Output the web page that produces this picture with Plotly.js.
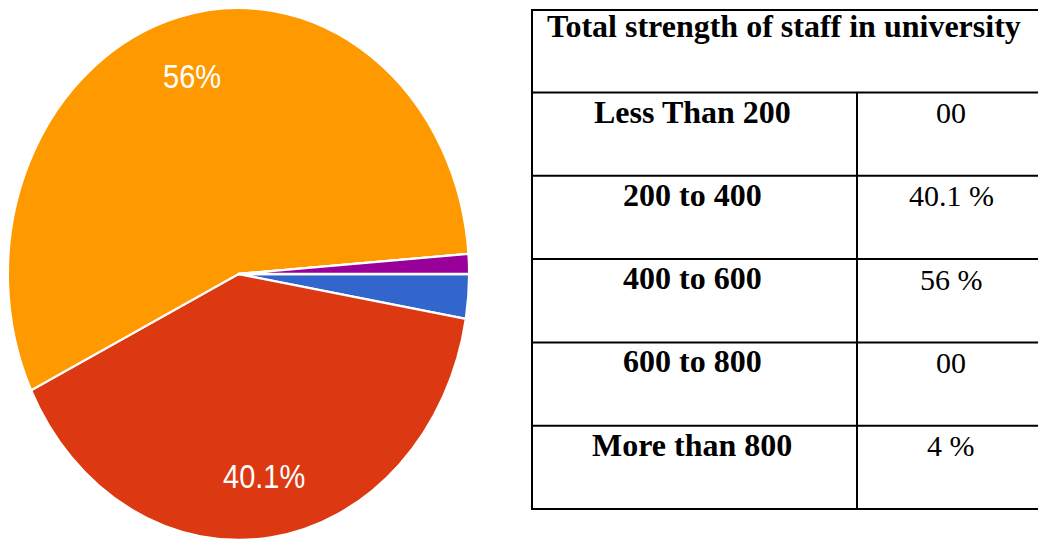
<!DOCTYPE html>
<html>
<head>
<meta charset="utf-8">
<script src="https://cdn.plot.ly/plotly-3.0.1.min.js"></script>
<style>
  html, body { margin: 0; padding: 0; background: #ffffff; width: 1038px; height: 541px; overflow: hidden; }
  #pie { position: absolute; left: 0px; top: 8px; width: 477px; height: 461px; transform: scaleY(1.154); transform-origin: 0 0; }
  #table { position: absolute; left: 0; top: 0; width: 1038px; height: 541px; }
</style>
</head>
<body>
<div id="pie"></div>
<div id="table"></div>
<script>
// ---- Pie data (Google Forms style response chart) ----
var pieLabels = ["Less Than 200", "200 to 400", "400 to 600", "600 to 800", "More than 800"];
var pieValues = [2.7, 40.1, 56, 0, 1.2];
var pieColors = ["#3366cc", "#dc3912", "#ff9900", "#109618", "#990099"];
var pieShowLabel = [false, true, true, false, false];

// ---- Table data ----
var tableTitle = "Total strength of staff in university";
var tableRows = ["Less Than 200", "200 to 400", "400 to 600", "600 to 800", "More than 800"];
var tableValues = ["00", "40.1 %", "56 %", "00", "4 %"];

// ---- Pie ----
var PW = 477, PH = 461;
var startDeg = 90; // first slice starts at 3 o'clock, clockwise
var pieTrace = {
  type: "pie",
  labels: pieLabels,
  values: pieValues,
  sort: false,
  direction: "clockwise",
  rotation: startDeg,
  marker: { colors: pieColors, line: { color: "#ffffff", width: 2 } },
  textinfo: "none",
  hoverinfo: "label+percent",
  showlegend: false,
  domain: { x: [0, 1], y: [0, 1] }
};

// percent labels placed along each slice's mid-angle (Google Charts style, ~0.77 of radius)
var total = pieValues.reduce(function (a, b) { return a + b; }, 0);
var radius = Math.min(PW, PH) / 2;
var labelFrac = 0.77;
var pieAnn = [];
var cum = 0;
pieValues.forEach(function (v, i) {
  var mid = cum + v / 2;
  cum += v;
  if (!pieShowLabel[i]) return;
  var theta = -(mid / total) * 2 * Math.PI; // math angle, 0 = 3 o'clock, clockwise
  var pct = Math.round(v / total * 1000) / 10;
  pieAnn.push({
    xref: "paper", yref: "paper",
    x: 0.5 + labelFrac * radius * Math.cos(theta) / PW,
    y: 0.5 + labelFrac * radius * Math.sin(theta) / PH,
    xanchor: "center", yanchor: "middle",
    text: pct + "%", showarrow: false,
    font: { family: "Liberation Sans, Arial, sans-serif", size: 29, color: "#ffffff" }
  });
});

Plotly.newPlot("pie", [pieTrace], {
  width: PW, height: PH,
  margin: { l: 0, r: 0, t: 0, b: 0 },
  paper_bgcolor: "rgba(0,0,0,0)",
  showlegend: false,
  annotations: pieAnn
}, { displayModeBar: false, staticPlot: true });

// ---- Table drawn with shapes + annotations ----
var W = 1038, H = 541;
function px(x) { return x / W; }
function py(y) { return 1 - y / H; }

var tLeft = 532, tRight = 1038, tTop = 10, tHeaderBottom = 92.5, rowH = 83.3, colDiv = 857;
var tBottom = tHeaderBottom + rowH * tableRows.length;
var lineStyle = { color: "#000000", width: 2 };
var shapes = [];
function hline(y, x0, x1) {
  shapes.push({ type: "line", xref: "paper", yref: "paper", x0: px(x0), x1: px(x1), y0: py(y), y1: py(y), line: lineStyle });
}
function vline(x, y0, y1) {
  shapes.push({ type: "line", xref: "paper", yref: "paper", x0: px(x), x1: px(x), y0: py(y0), y1: py(y1), line: lineStyle });
}
hline(tTop, tLeft - 1, tRight);
hline(tHeaderBottom, tLeft - 1, tRight);
tableRows.forEach(function (r, i) { hline(tHeaderBottom + rowH * (i + 1), tLeft - 1, tRight); });
vline(tLeft, tTop, tBottom);
vline(colDiv, tHeaderBottom, tBottom);

var serif = "Liberation Serif, Times New Roman, serif";
var annotations = [];
annotations.push({
  xref: "paper", yref: "paper", x: px(784), y: py(tTop + 16), xanchor: "center", yanchor: "middle",
  text: "<b>" + tableTitle + "</b>", showarrow: false,
  font: { family: serif, size: 32, color: "#000000" }
});
tableRows.forEach(function (r, i) {
  var yTop = tHeaderBottom + rowH * i;
  annotations.push({
    xref: "paper", yref: "paper", x: px(692), y: py(yTop + 19), xanchor: "center", yanchor: "middle",
    text: "<b>" + r + "</b>", showarrow: false,
    font: { family: serif, size: 32, color: "#000000" }
  });
  annotations.push({
    xref: "paper", yref: "paper", x: px(951), y: py(yTop + 20), xanchor: "center", yanchor: "middle",
    text: tableValues[i], showarrow: false,
    font: { family: serif, size: 30, color: "#000000" }
  });
});

Plotly.newPlot("table", [], {
  width: W, height: H,
  margin: { l: 0, r: 0, t: 0, b: 0 },
  paper_bgcolor: "rgba(0,0,0,0)",
  plot_bgcolor: "rgba(0,0,0,0)",
  xaxis: { visible: false }, yaxis: { visible: false },
  shapes: shapes,
  annotations: annotations
}, { displayModeBar: false, staticPlot: true });
</script>
</body>
</html>
